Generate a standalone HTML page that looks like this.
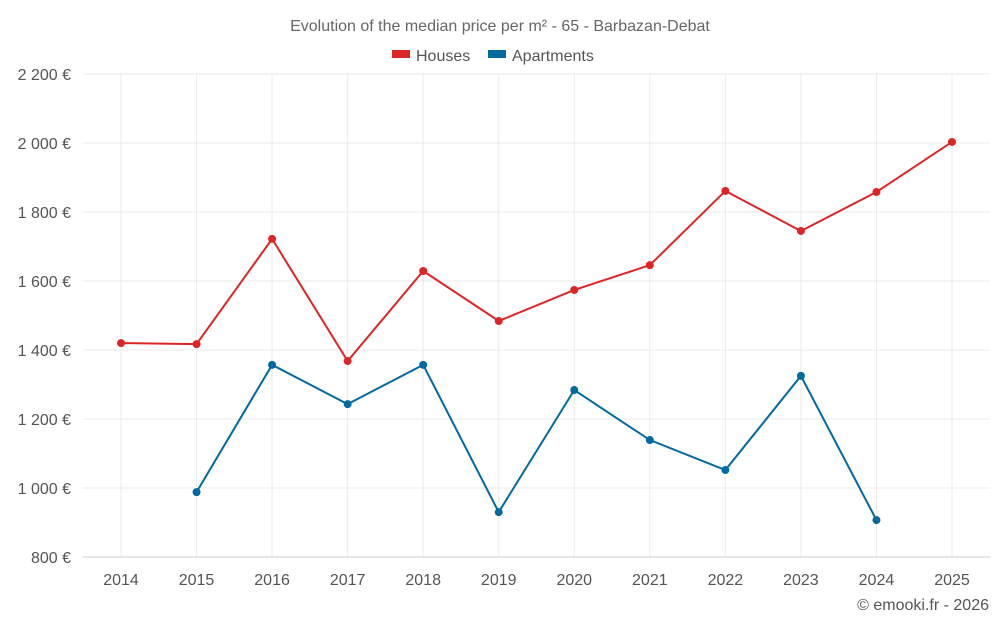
<!DOCTYPE html>
<html><head><meta charset="utf-8"><style>
body{margin:0;background:#fff;font-family:"Liberation Sans",sans-serif}
svg text{font-family:"Liberation Sans",sans-serif}
</style></head><body>
<svg id="chart" width="1000" height="625" xmlns="http://www.w3.org/2000/svg">
<text x="500" y="31" text-anchor="middle" font-size="16" fill="#666">Evolution of the median price per m² - 65 - Barbazan-Debat</text>
<g>
<g><rect x="392" y="50" width="18" height="8" fill="#dc2626"/><text x="416" y="61" font-size="16" fill="#555">Houses</text></g>
<g><rect x="488" y="50" width="18" height="8" fill="#0369a1"/><text x="512" y="61" font-size="16" fill="#555">Apartments</text></g>
</g>
<g id="grid"></g><g id="axes"></g><g id="series"></g>
<text x="989" y="610" text-anchor="end" font-size="16" fill="#555">© emooki.fr - 2026</text>
</svg>
<script>
const years=[2014,2015,2016,2017,2018,2019,2020,2021,2022,2023,2024,2025];
const houses=[1420,1417,1722,1368,1629,1484,1574,1646,1861,1745,1858,2003];
const apartments=[null,988,1357,1243,1357,930,1284,1139,1052,1325,907,null];
const yTicks=[800,1000,1200,1400,1600,1800,2000,2200];
const yTickLabels=["800 €","1 000 €","1 200 €","1 400 €","1 600 €","1 800 €","2 000 €","2 200 €"];
const NS="http://www.w3.org/2000/svg";
const L=83,R=990,T=74,B=557;
const x=i=>121+i*(952-121)/(years.length-1);
const y=v=>B-(v-800)/(2200-800)*(B-T);
function mk(tag,attrs,parent){const e=document.createElementNS(NS,tag);for(const k in attrs)e.setAttribute(k,attrs[k]);parent.appendChild(e);return e;}
const grid=document.getElementById('grid'),axes=document.getElementById('axes'),ser=document.getElementById('series');
yTicks.forEach((t,i)=>{
 const ln=mk('line',{x1:L,x2:R,y1:y(t),y2:y(t),stroke:'#ebebeb'},grid);
 
 
 const tx=mk('text',{x:71,y:y(t)+6,'text-anchor':'end','font-size':16,fill:'#555'},axes);
 tx.textContent=yTickLabels[i];
 
 
});
years.forEach((yr,i)=>{
 const ln=mk('line',{x1:x(i),x2:x(i),y1:T,y2:B,stroke:'#ebebeb'},grid);
 
 
 const tx=mk('text',{x:x(i),y:585,'text-anchor':'middle','font-size':16,fill:'#555'},axes);
 tx.textContent=yr;
 
 
});
const ax=mk('line',{x1:L,x2:R,y1:B,y2:B,stroke:'#ccc'},axes);


function series(data,color,name){
 let pts=[];data.forEach((v,i)=>{if(v!=null)pts.push([x(i),y(v)]);});
 const p=mk('polyline',{points:pts.map(q=>q.join(',')).join(' '),fill:'none',stroke:color,'stroke-width':2},ser);
 
 
 pts.forEach(q=>{const c=mk('circle',{cx:q[0],cy:q[1],r:4,fill:color},ser);
  
  });
}
series(houses,'#dc2626','houses');
series(apartments,'#0369a1','apartments');
</script>
</body></html>
